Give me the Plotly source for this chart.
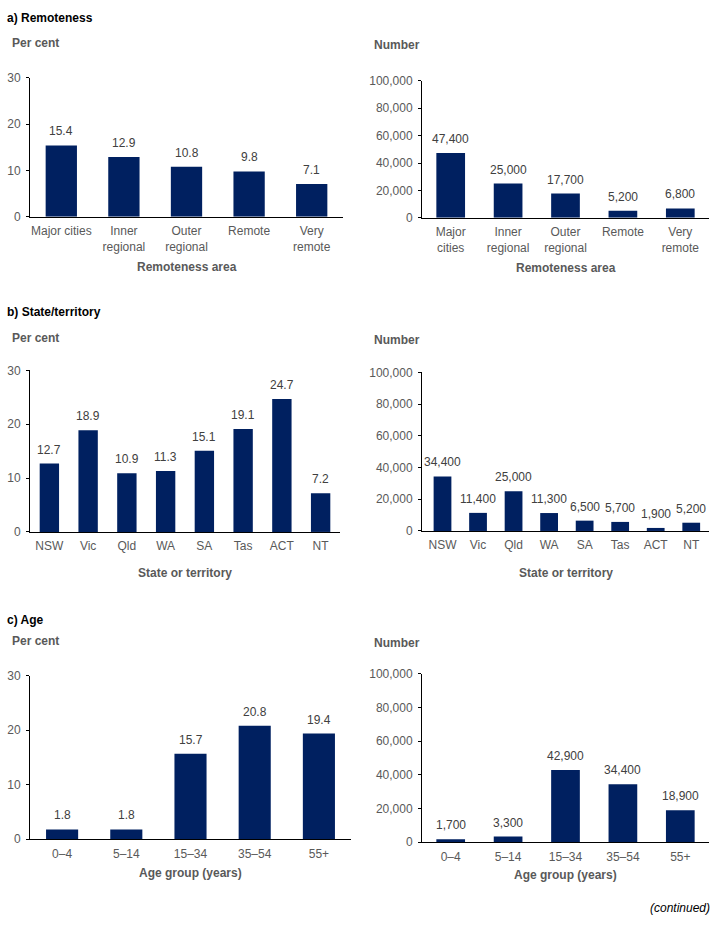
import plotly.graph_objects as go

# ---- data ----
remote_cats_left = ["Major cities", "Inner<br>regional", "Outer<br>regional", "Remote", "Very<br>remote"]
remote_cats_right = ["Major<br>cities", "Inner<br>regional", "Outer<br>regional", "Remote", "Very<br>remote"]
remote_pct = [15.4, 12.9, 10.8, 9.8, 7.1]
remote_num = [47400, 25000, 17700, 5200, 6800]

state_cats = ["NSW", "Vic", "Qld", "WA", "SA", "Tas", "ACT", "NT"]
state_pct = [12.7, 18.9, 10.9, 11.3, 15.1, 19.1, 24.7, 7.2]
state_num = [34400, 11400, 25000, 11300, 6500, 5700, 1900, 5200]

age_cats = ["0–4", "5–14", "15–34", "35–54", "55+"]
age_pct = [1.8, 1.8, 15.7, 20.8, 19.4]
age_num = [1700, 3300, 42900, 34400, 18900]

W, H = 714, 926
BAR = "#002060"
FONT = "Liberation Sans, Arial, sans-serif"
TICKC = "#595959"
LBLC = "#404040"

def xd(a, b):
    return [a / W, b / W]

def yd(top, bottom):
    return [1 - bottom / H, 1 - top / H]

panels = [
    # cats, vals, kind, xdomain(px), ydomain(px top,bottom), xtitle, xtitle_y
    (remote_cats_left, remote_pct, "pct", (30, 343), (72, 213), "Remoteness area", 264),
    (remote_cats_right, remote_num, "num", (422, 709), (75, 214), "Remoteness area", 265),
    (state_cats, state_pct, "pct", (30, 340), (369, 533), "State or territory", 575),
    (state_cats, state_num, "num", (422, 709), (371, 532), "State or territory", 575),
    (age_cats, age_pct, "pct", (30, 351), (679, 845), "Age group (years)", 879),
    (age_cats, age_num, "num", (422, 709), (677, 848), "Age group (years)", 881),
]

fig = go.Figure()
annotations = []
layout = dict(
    width=W, height=H, margin=dict(l=0, r=0, t=0, b=0),
    paper_bgcolor="white", plot_bgcolor="white", showlegend=False,
    font=dict(family=FONT, size=12, color=TICKC), bargap=0.5,
)

for i, (cats, vals, kind, xdom, ydom, xtitle, xty) in enumerate(panels, start=1):
    xa = "x" if i == 1 else f"x{i}"
    ya = "y" if i == 1 else f"y{i}"
    fig.add_trace(go.Bar(x=cats, y=vals, xaxis=xa, yaxis=ya, marker_color=BAR,
                         marker_line_width=0, hoverinfo="skip"))
    layout["xaxis" if i == 1 else f"xaxis{i}"] = dict(
        domain=xd(*xdom), anchor=ya, showline=True, linecolor="#000000", linewidth=1,
        ticks="", showgrid=False, tickfont=dict(size=12, color=TICKC), fixedrange=True,
        ticklabelstandoff=3,
    )
    if kind == "pct":
        yax = dict(range=[0, 30], dtick=10, tickformat="d")
    else:
        yax = dict(range=[0, 100000], dtick=20000, tickformat=",")
    yax.update(domain=yd(*ydom), anchor=xa, showline=True, linecolor="#000000", linewidth=1,
               ticks="outside", ticklen=3, tickcolor="#000000", showgrid=False, zeroline=False,
               tickfont=dict(size=12, color=TICKC), fixedrange=True, ticklabelstandoff=3)
    layout["yaxis" if i == 1 else f"yaxis{i}"] = yax
    for c, v in zip(cats, vals):
        txt = f"{v:.1f}" if kind == "pct" else f"{v:,}"
        annotations.append(dict(x=c, y=v, xref=xa, yref=ya, text=txt, showarrow=False,
                                yanchor="bottom", yshift=5,
                                font=dict(family=FONT, size=12, color=LBLC)))
    # x-axis title
    annotations.append(dict(x=(xdom[0] + xdom[1]) / 2 / W, y=1 - xty / H, xref="paper", yref="paper",
                            text=f"<b>{xtitle}</b>", showarrow=False, xanchor="center", yanchor="middle",
                            font=dict(family=FONT, size=12, color=TICKC)))

# y unit labels
for (x, y, t) in [(10, 37, "Per cent"), (372, 39, "Number"),
                  (10, 336, "Per cent"), (372, 338, "Number"),
                  (10, 644, "Per cent"), (372, 646, "Number")]:
    annotations.append(dict(x=x / W, y=1 - y / H, xref="paper", yref="paper", text=f"<b>{t}</b>",
                            showarrow=False, xanchor="left", yanchor="middle",
                            font=dict(family=FONT, size=12, color=TICKC)))

# panel headings
for (y, t) in [(11, "a) Remoteness"), (310, "b) State/territory"), (622, "c) Age")]:
    annotations.append(dict(x=5 / W, y=1 - y / H, xref="paper", yref="paper", text=f"<b>{t}</b>",
                            showarrow=False, xanchor="left", yanchor="middle",
                            font=dict(family=FONT, size=12, color="#000000")))

annotations.append(dict(x=712 / W, y=1 - 915 / H, xref="paper", yref="paper", text="<i>(continued)</i>",
                        showarrow=False, xanchor="right", yanchor="middle",
                        font=dict(family=FONT, size=12, color="#000000")))

layout["annotations"] = annotations
fig.update_layout(**layout)
fig.write_html("out.html", config={"displayModeBar": False})
